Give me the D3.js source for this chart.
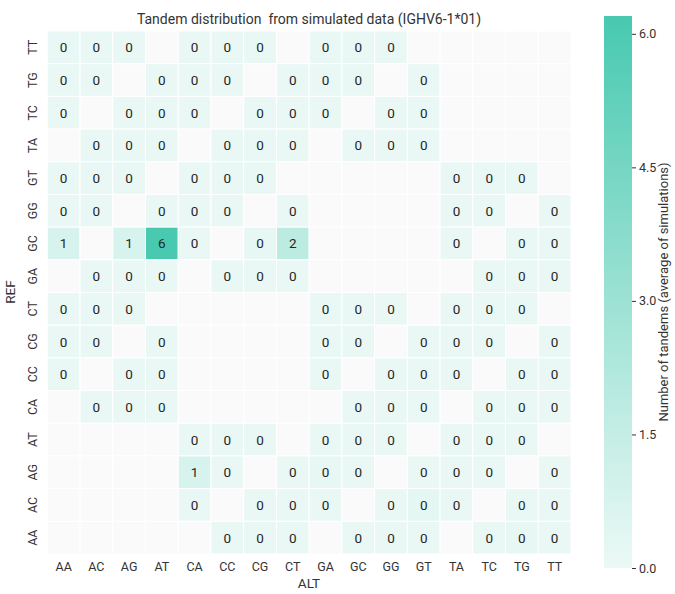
<!DOCTYPE html>
<html>
<head>
<meta charset="utf-8">
<script src="https://cdn.jsdelivr.net/npm/d3@7"></script>
<style>
  body { margin: 0; background: #fff; }
  text { font-family: Roboto, "Noto Sans", sans-serif; }
</style>
</head>
<body>
<svg id="chart" width="675" height="594"></svg>
<script>
const altLabels = ["AA","AC","AG","AT","CA","CC","CG","CT","GA","GC","GG","GT","TA","TC","TG","TT"];
const refLabels = ["TT","TG","TC","TA","GT","GG","GC","GA","CT","CG","CC","CA","AT","AG","AC","AA"];
const N = null;
const rowTT = [0.1,0.1,0.1,N,0.1,0.1,0.1,N,0.1,0.1,0.1,N,N,N,N,N];
const rowTG = [0.1,0.1,N,0.1,0.1,0.1,N,0.1,0.1,0.1,N,0.1,N,N,N,N];
const rowTC = [0.1,N,0.1,0.1,0.1,N,0.1,0.1,0.1,N,0.1,0.1,N,N,N,N];
const rowTA = [N,0.1,0.1,0.1,N,0.1,0.1,0.1,N,0.1,0.1,0.1,N,N,N,N];
const rowGT = [0.1,0.1,0.1,N,0.1,0.1,0.1,N,N,N,N,N,0.1,0.1,0.1,N];
const rowGG = [0.1,0.1,N,0.1,0.1,0.1,N,0.1,N,N,N,N,0.1,0.1,N,0.1];
const rowGC = [0.8,N,0.8,6.2,0.1,N,0.2,1.8,N,N,N,N,0.1,N,0.1,0.1];
const rowGA = [N,0.1,0.1,0.1,N,0.1,0.1,0.1,N,N,N,N,N,0.1,0.1,0.1];
const rowCT = [0.1,0.1,0.1,N,N,N,N,N,0.1,0.1,0.1,N,0.1,0.1,0.1,N];
const rowCG = [0.1,0.1,N,0.1,N,N,N,N,0.1,0.1,N,0.1,0.1,0.1,N,0.1];
const rowCC = [0.1,N,0.1,0.1,N,N,N,N,0.1,N,0.1,0.1,0.1,N,0.1,0.1];
const rowCA = [N,0.1,0.1,0.1,N,N,N,N,N,0.1,0.1,0.1,N,0.1,0.1,0.1];
const rowAT = [N,N,N,N,0.1,0.1,0.1,N,0.1,0.1,0.1,N,0.1,0.1,0.1,N];
const rowAG = [N,N,N,N,0.8,0.1,N,0.1,0.2,0.1,N,0.1,0.1,0.1,N,0.1];
const rowAC = [N,N,N,N,0.1,N,0.1,0.1,0.1,N,0.1,0.3,0.1,N,0.1,0.1];
const rowAA = [N,N,N,N,N,0.1,0.1,0.1,N,0.1,0.1,0.1,N,0.1,0.2,0.1];
const matrix = [rowTT,rowTG,rowTC,rowTA,rowGT,rowGG,rowGC,rowGA,rowCT,rowCG,rowCC,rowCA,rowAT,rowAG,rowAC,rowAA];
const colorTicks = [0.0, 1.5, 3.0, 4.5, 6.0];
const vmax = 6.2;

const svg = d3.select("#chart");
const x = d3.scaleBand().domain(altLabels).range([47.3, 571]);
const y = d3.scaleBand().domain(refLabels).range([31, 554]);
const color = d3.scaleLinear().domain([0, vmax]).range(["#ecf9f6", "#48c9b0"]);

const cells = [];
matrix.forEach((row, i) => row.forEach((v, j) => cells.push({ref: refLabels[i], alt: altLabels[j], v})));

svg.append("g").selectAll("rect").data(cells).join("rect")
  .attr("x", d => x(d.alt)).attr("y", d => y(d.ref))
  .attr("width", x.bandwidth()).attr("height", y.bandwidth())
  .attr("fill", d => d.v === null ? "#fafafa" : color(d.v))
  .attr("stroke", "#ffffff").attr("stroke-width", 1);

const fmt = d3.format(".0f");
svg.append("g").selectAll("text").data(cells.filter(d => d.v !== null)).join("text")
  .attr("x", d => x(d.alt) + x.bandwidth() / 2)
  .attr("y", d => y(d.ref) + y.bandwidth() / 2)
  .attr("text-anchor", "middle").attr("dominant-baseline", "central")
  .attr("font-size", 13.5).attr("fill", "#262626")
  .text(d => fmt(d.v));

// x axis
const xAxis = svg.append("g").attr("transform", "translate(0,554)")
  .call(d3.axisBottom(x).tickSize(0).tickPadding(8));
xAxis.select(".domain").remove();
xAxis.selectAll("text").attr("font-size", 12.5).attr("fill", "#333").style("font-family", "Roboto");

// y axis
const yAxis = svg.append("g").attr("transform", "translate(47.3,0)")
  .call(d3.axisLeft(y).tickSize(0).tickPadding(0));
yAxis.select(".domain").remove();
yAxis.selectAll("text")
  .attr("font-size", 12.5).attr("fill", "#333").style("font-family", "Roboto")
  .attr("text-anchor", "middle").attr("dy", null).attr("x", 0)
  .attr("transform", "translate(-15,0) rotate(-90)")
  .attr("dominant-baseline", "central");

// axis titles
svg.append("text").attr("x", 309).attr("y", 588).attr("text-anchor", "middle")
  .attr("font-size", 13.5).attr("fill", "#333").text("ALT");
svg.append("text").attr("transform", "translate(15,292) rotate(-90)").attr("text-anchor", "middle")
  .attr("font-size", 13.5).attr("fill", "#333").text("REF");
svg.append("text").attr("x", 309).attr("y", 24).attr("text-anchor", "middle")
  .attr("font-size", 14).attr("fill", "#333").attr("xml:space", "preserve")
  .text("Tandem distribution  from simulated data (IGHV6-1*01)");

// colorbar
const cbX = 604, cbW = 28;
const cy = d3.scaleLinear().domain([0, vmax]).range([568, 16]);
const defs = svg.append("defs");
const grad = defs.append("linearGradient").attr("id", "cbgrad")
  .attr("x1", "0").attr("y1", "1").attr("x2", "0").attr("y2", "0");
grad.append("stop").attr("offset", "0%").attr("stop-color", color(0));
grad.append("stop").attr("offset", "100%").attr("stop-color", color(vmax));
svg.append("rect").attr("x", cbX).attr("y", cy(vmax)).attr("width", cbW)
  .attr("height", cy(0) - cy(vmax)).attr("fill", "url(#cbgrad)");
const cAxis = svg.append("g").attr("transform", `translate(${cbX + cbW},0)`)
  .call(d3.axisRight(cy).tickValues(colorTicks).tickFormat(d3.format(".1f")).tickSize(4).tickPadding(3));
cAxis.select(".domain").remove();
cAxis.selectAll("line").attr("stroke", "#333");
cAxis.selectAll("text").attr("font-size", 12.5).attr("fill", "#333").style("font-family", "Roboto");
svg.append("text").attr("transform", "translate(668,292) rotate(-90)").attr("text-anchor", "middle")
  .attr("font-size", 13).attr("fill", "#333").text("Number of tandems (average of simulations)");
</script>
</body>
</html>
